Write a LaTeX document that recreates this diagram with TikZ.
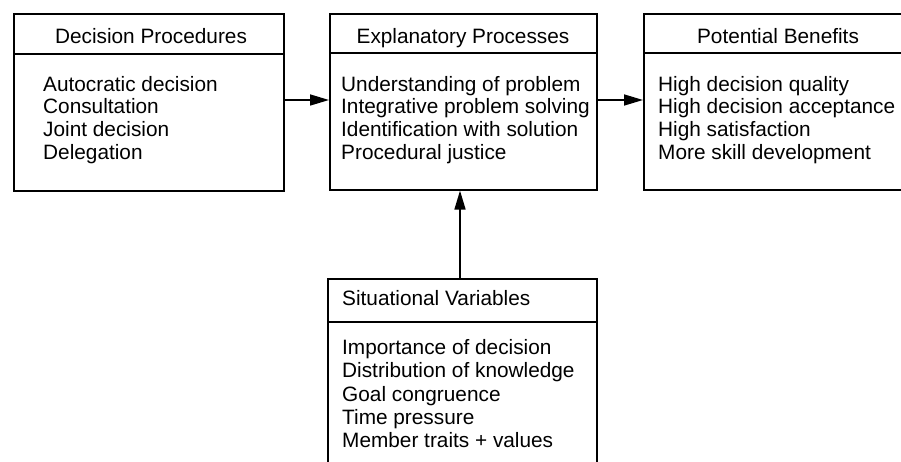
\documentclass[tikz,border=0pt]{standalone}
\usepackage{fontspec}
\setmainfont{Liberation Sans}
\usetikzlibrary{arrows.meta}
\begin{document}
\begin{tikzpicture}[x=1pt,y=-1pt,
  panel/.style={draw, line width=1.6pt, rectangle, anchor=north west, inner sep=0pt},
  rule/.style={line width=1.4pt},
  title/.style={anchor=base, font=\fontsize{20.8}{22.6}\selectfont, inner sep=0pt},
  items/.style={anchor=north west, align=left, font=\fontsize{20.8}{22.6}\selectfont, inner sep=0pt},
  link/.style={line width=1.6pt, -{Triangle[length=19pt,width=11pt]}}]
\clip (0,0) rectangle (901,462);
\fill[white] (0,0) rectangle (901,462);

% the four boxes
\node[panel, minimum width=270pt, minimum height=177pt] (dp) at (13,13) {};
\node[panel, minimum width=267pt, minimum height=176pt] (ep) at (329,13) {};
\node[panel, minimum width=270pt, minimum height=176pt] (pb) at (643,13) {};
\node[panel, minimum width=269pt, minimum height=210pt] (sv) at (327,278) {};

% header rules
\draw[rule] ([yshift=-41pt]dp.north west) -- ([yshift=-41pt]dp.north east);
\draw[rule] ([yshift=-40pt]ep.north west) -- ([yshift=-40pt]ep.north east);
\draw[rule] ([yshift=-40pt]pb.north west) -- ([yshift=-40pt]pb.north east);
\draw[rule] ([yshift=-44pt]sv.north west) -- ([yshift=-44pt]sv.north east);

% headers
\node[title] (dp-t) at (151,44) {Decision Procedures};
\node[title] (ep-t) at (463,44) {Explanatory Processes};
\node[title] (pb-t) at (778,44) {Potential Benefits};
\node[title, anchor=base west] (sv-t) at (342,305) {Situational Variables};

% contents
\node[items] (dp-l) at (43,76) {Autocratic decision\\Consultation\\Joint decision\\Delegation};
\node[items] (ep-l) at (341,76) {Understanding of problem\\Integrative problem solving\\Identification with solution\\Procedural justice};
\node[items] (pb-l) at (658,76) {High decision quality\\High decision acceptance\\High satisfaction\\More skill development};
\node[items, font=\fontsize{20.8}{23.4}\selectfont] (sv-l) at (342,339) {Importance of decision\\Distribution of knowledge\\Goal congruence\\Time pressure\\Member traits + values};

% connectors
\draw[link] (dp.east |- 0,100) -- (ep.west |- 0,100);
\draw[link] (ep.east |- 0,100) -- (pb.west |- 0,100);
\draw[link] (sv.north -| 460,0) -- (ep.south -| 460,0);
\end{tikzpicture}
\end{document}
